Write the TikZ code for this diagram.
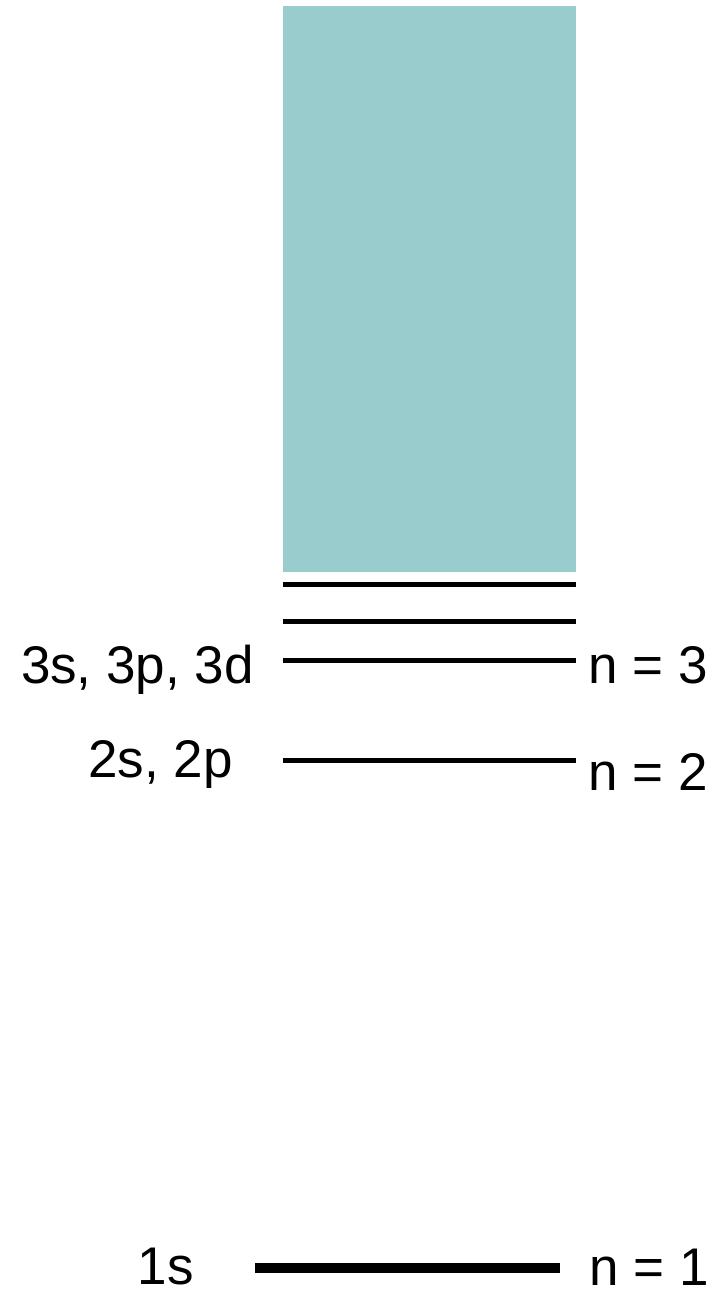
\documentclass[tikz,border=0pt]{standalone}
\usepackage{fontspec}
\setmainfont{Liberation Sans}
\definecolor{continuum}{HTML}{99CDCD}

\begin{document}
\begin{tikzpicture}[
x=1pt, y=-1pt,
every node/.style={
inner sep=0pt,
font=\fontsize{53}{60}\selectfont
},
level/.style={line width=5pt},
ground/.style={line width=10pt}
]

\useasboundingbox (0,0) rectangle (720,1292);

\fill[continuum] (283,6) rectangle (576,572);

\draw[level] (283,584) -- (576,584);
\draw[level] (283,621) -- (576,621);
\draw[level] (283,660) -- (576,660);
\draw[level] (283,760) -- (576,760);
\draw[ground] (255,1268) -- (560,1268);

\node[anchor=base east] (L3) at (254,683) {3s, 3p, 3d};
\node[anchor=base east] (L2) at (233,777) {2s, 2p};
\node[anchor=base east] (L1) at (194,1284) {1s};

\node[anchor=base west] (N3) at (588,683) {n = 3};
\node[anchor=base west] (N2) at (588,790) {n = 2};
\node[anchor=base west] (N1) at (589,1285) {n = 1};

\end{tikzpicture}
\end{document}
